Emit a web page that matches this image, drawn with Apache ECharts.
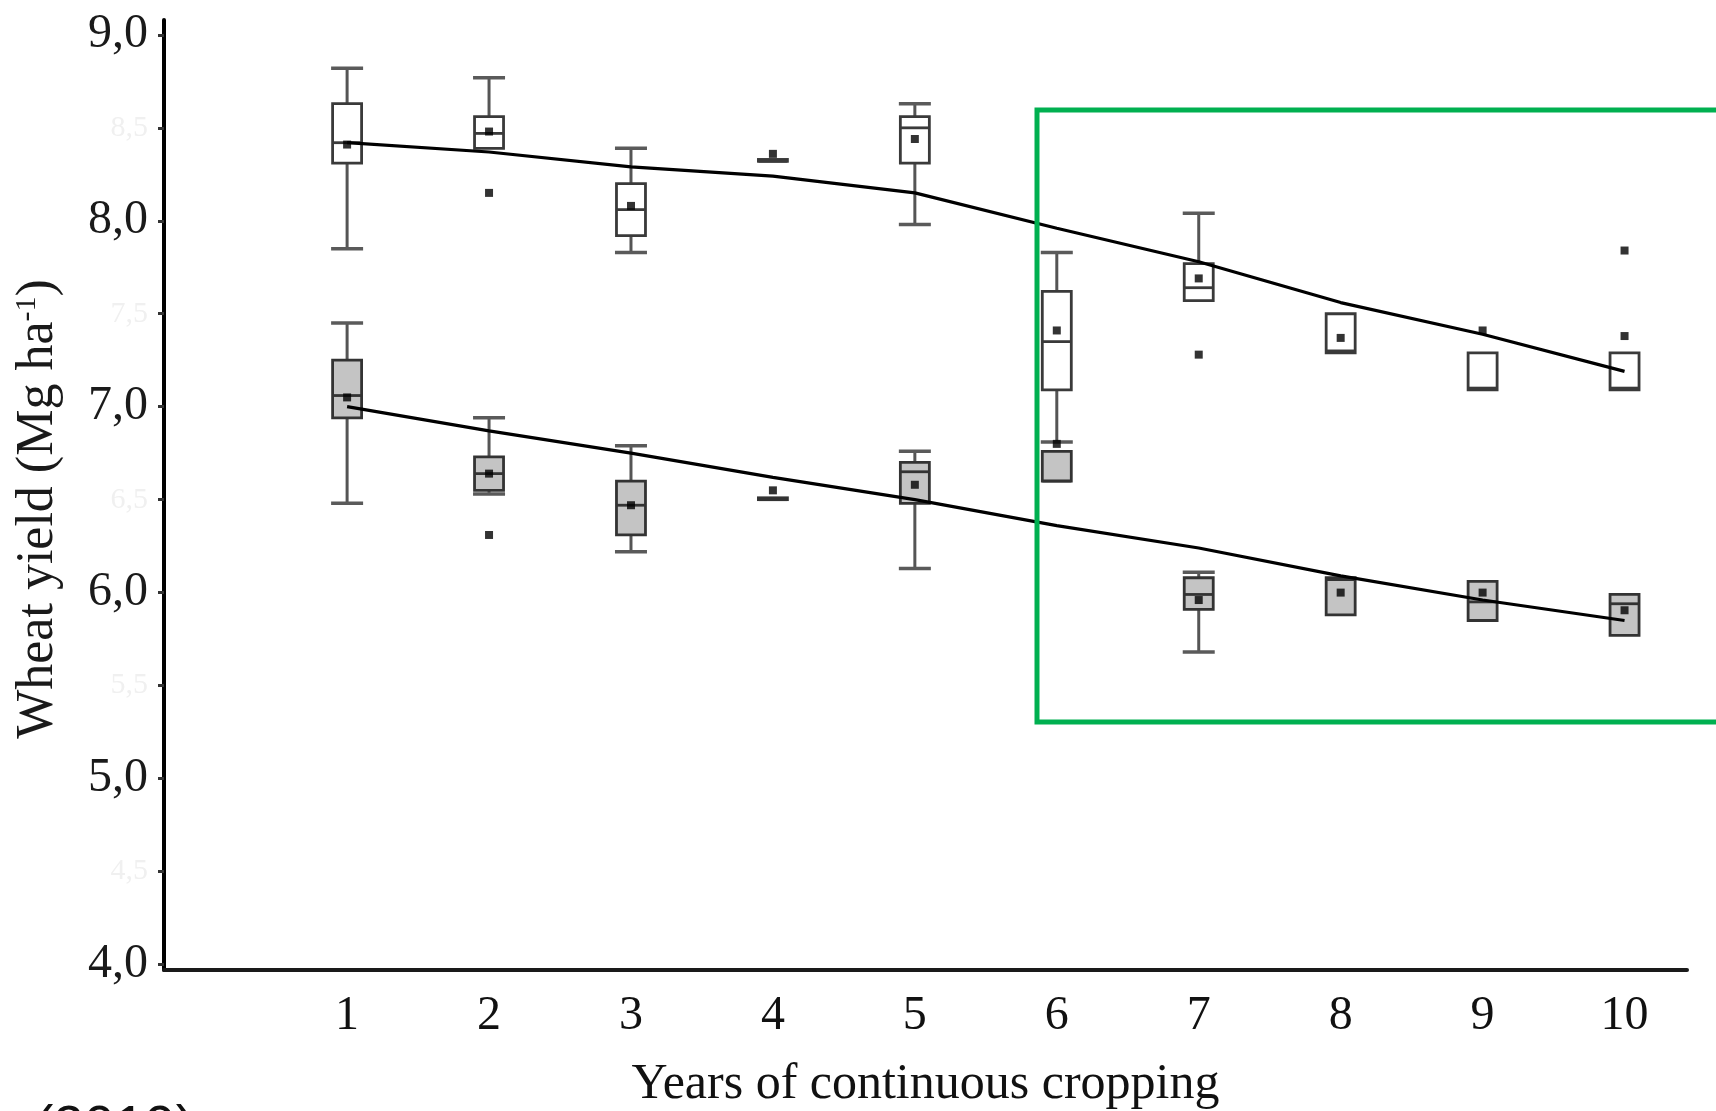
<!DOCTYPE html>
<html>
<head>
<meta charset="utf-8">
<script src="https://cdn.jsdelivr.net/npm/echarts@6/dist/echarts.min.js"></script>
<style>
html,body{margin:0;padding:0;background:#ffffff;}
#chart{width:1716px;height:1111px;}
</style>
</head>
<body>
<div id="chart"></div>
<script>
// ---------------- data ----------------
const years = [1, 2, 3, 4, 5, 6, 7, 8, 9, 10];
const xTickLabels = ['1', '2', '3', '4', '5', '6', '7', '8', '9', '10'];
const yTickValues = [4, 4.5, 5, 5.5, 6, 6.5, 7, 7.5, 8, 8.5, 9];
const yTickLabels = ['4,0', '4,5', '5,0', '5,5', '6,0', '6,5', '7,0', '7,5', '8,0', '8,5', '9,0'];

// [lower whisker, Q1, median, Q3, upper whisker]
const topBoxes = [
  [7.85, 8.31, 8.42, 8.63, 8.82],
  [8.39, 8.39, 8.47, 8.56, 8.77],
  [7.83, 7.92, 8.06, 8.20, 8.39],
  [8.32, 8.32, 8.32, 8.33, 8.33],
  [7.98, 8.31, 8.50, 8.56, 8.63],
  [6.81, 7.09, 7.35, 7.62, 7.83],
  [7.57, 7.57, 7.64, 7.77, 8.04],
  [7.29, 7.29, 7.30, 7.50, 7.50],
  [7.09, 7.09, 7.10, 7.29, 7.29],
  [7.09, 7.09, 7.10, 7.29, 7.29]
];
const topMeans = [8.41, 8.48, 8.08, 8.36, 8.44, 7.41, 7.69, 7.37, null, null];
const topOutliers = [[2, 8.15], [7, 7.28], [9, 7.41], [10, 7.84], [10, 7.38]];
const topOpenOutliers = [[4, 8.53], [9, 7.99]];
const topTrend = [8.42, 8.37, 8.29, 8.24, 8.15, 7.96, 7.78, 7.56, 7.39, 7.19];

const bottomBoxes = [
  [6.48, 6.94, 7.06, 7.25, 7.45],
  [6.53, 6.55, 6.64, 6.73, 6.94],
  [6.22, 6.31, 6.47, 6.60, 6.79],
  [6.50, 6.50, 6.50, 6.51, 6.51],
  [6.13, 6.48, 6.65, 6.70, 6.76],
  [6.60, 6.60, 6.60, 6.76, 6.76],
  [5.68, 5.91, 5.99, 6.08, 6.11],
  [5.88, 5.88, 6.07, 6.08, 6.08],
  [5.85, 5.85, 5.95, 6.06, 6.06],
  [5.77, 5.77, 5.94, 5.99, 5.99]
];
const bottomMeans = [7.05, 6.64, 6.47, 6.55, 6.58, 6.80, 5.96, 6.00, 6.00, 5.905];
const bottomOutliers = [[2, 6.31]];
const bottomOpenOutliers = [[4, 6.70]];
const bottomTrend = [7.00, 6.87, 6.75, 6.62, 6.50, 6.36, 6.24, 6.09, 5.96, 5.85];

// ---------------- chart ----------------
const SERIF = '"Liberation Serif", "Times New Roman", serif';

function boxRenderer(fill, stroke) {
  return function (params, api) {
    const x = api.value(0);
    const lo = api.coord([x, api.value(1)]);
    const q1 = api.coord([x, api.value(2)]);
    const md = api.coord([x, api.value(3)]);
    const q3 = api.coord([x, api.value(4)]);
    const hi = api.coord([x, api.value(5)]);
    const cx = lo[0];
    const hw = 14.5, cw = 16;
    const children = [];
    const wStyle = { stroke: '#555555', lineWidth: 3 };
    const cStyle = { stroke: '#5a5a5a', lineWidth: 3.5 };
    if (lo[1] - q1[1] > 1) {
      children.push({ type: 'line', shape: { x1: cx, y1: q1[1], x2: cx, y2: lo[1] }, style: wStyle });
      children.push({ type: 'line', shape: { x1: cx - cw, y1: lo[1], x2: cx + cw, y2: lo[1] }, style: cStyle });
    }
    if (q3[1] - hi[1] > 1) {
      children.push({ type: 'line', shape: { x1: cx, y1: q3[1], x2: cx, y2: hi[1] }, style: wStyle });
      children.push({ type: 'line', shape: { x1: cx - cw, y1: hi[1], x2: cx + cw, y2: hi[1] }, style: cStyle });
    }
    children.push({
      type: 'rect',
      shape: { x: cx - hw, y: q3[1], width: 2 * hw, height: Math.max(q1[1] - q3[1], 1.5) },
      style: { fill: fill, stroke: stroke, lineWidth: 2.8 }
    });
    children.push({ type: 'line', shape: { x1: cx - hw, y1: md[1], x2: cx + hw, y2: md[1] }, style: { stroke: stroke, lineWidth: 2.8 } });
    return { type: 'group', children: children };
  };
}

const chart = echarts.init(document.getElementById('chart'), null, { renderer: 'canvas' });

const option = {
  animation: false,
  backgroundColor: '#ffffff',
  grid: { left: 164, right: 29, top: 20, bottom: 141, outerBoundsMode: 'none', containLabel: false },
  xAxis: {
    type: 'value',
    min: -0.29,
    max: 10.44,
    splitLine: { show: false },
    axisLine: { show: true, onZero: false, lineStyle: { color: '#1a1a1a', width: 4 } },
    axisTick: { show: false },
    axisLabel: {
      customValues: years,
      margin: 22,
      fontFamily: SERIF,
      fontSize: 48,
      color: '#111111',
      formatter: function (v) { return xTickLabels[years.indexOf(v)]; }
    },
    name: 'Years of continuous cropping',
    nameLocation: 'middle',
    nameGap: 90,
    nameTextStyle: { fontFamily: SERIF, fontSize: 50, color: '#111111' }
  },
  yAxis: {
    type: 'value',
    min: 3.97,
    max: 9.08,
    splitLine: { show: false },
    axisLine: { show: true, onZero: false, lineStyle: { color: '#000000', width: 4 } },
    axisTick: { show: true, customValues: yTickValues, length: 6, lineStyle: { color: '#333333', width: 3 } },
    axisLabel: {
      customValues: yTickValues,
      margin: 16,
      fontFamily: SERIF,
      fontSize: 48,
      color: '#1a1a1a',
      formatter: function (v) {
        const i = yTickValues.findIndex(function (t) { return Math.abs(t - v) < 1e-6; });
        const s = yTickLabels[i];
        return (Math.abs(v - Math.round(v)) < 1e-6) ? s : '{f|' + s + '}';
      },
      rich: { f: { fontFamily: SERIF, fontSize: 30, color: '#f0f0f0' } }
    },
    name: 'Wheat yield (Mg ha{sup|-1})',
    nameLocation: 'middle',
    nameGap: 100,
    nameTextStyle: {
      fontFamily: SERIF,
      fontSize: 52,
      color: '#1a1a1a',
      padding: [0, 28, 0, 0],
      rich: {
        sup: { fontFamily: SERIF, fontSize: 30, color: '#1a1a1a', verticalAlign: 'top' }
      }
    }
  },
  series: [
    {
      name: 'boxes-top',
      type: 'custom',
      renderItem: boxRenderer('#ffffff', '#3a3a3a'),
      encode: { x: 0, y: [1, 2, 3, 4, 5] },
      data: years.map(function (y, i) { return [y].concat(topBoxes[i]); }),
      z: 2
    },
    {
      name: 'boxes-bottom',
      type: 'custom',
      renderItem: boxRenderer('#c4c4c4', '#333333'),
      encode: { x: 0, y: [1, 2, 3, 4, 5] },
      data: years.map(function (y, i) { return [y].concat(bottomBoxes[i]); }),
      z: 2
    },
    {
      name: 'trend-top',
      type: 'line',
      data: years.map(function (y, i) { return [y, topTrend[i]]; }),
      symbol: 'none',
      lineStyle: { color: '#000000', width: 3.2 },
      z: 4
    },
    {
      name: 'trend-bottom',
      type: 'line',
      data: years.map(function (y, i) { return [y, bottomTrend[i]]; }),
      symbol: 'none',
      lineStyle: { color: '#000000', width: 3.2 },
      z: 4
    },
    {
      name: 'means',
      type: 'scatter',
      symbol: 'rect',
      symbolSize: 8,
      itemStyle: { color: '#000000' },
      data: years.map(function (y, i) { return [y, topMeans[i]]; })
        .concat(years.map(function (y, i) { return [y, bottomMeans[i]]; }))
        .filter(function (d) { return d[1] !== null; }),
      z: 5
    },
    {
      name: 'outliers',
      type: 'scatter',
      symbol: 'rect',
      symbolSize: 8,
      itemStyle: { color: '#000000' },
      data: topOutliers.concat(bottomOutliers),
      z: 5
    },
    {
      name: 'outliers-open',
      type: 'scatter',
      symbol: 'emptyCircle',
      symbolSize: 6,
      itemStyle: { color: '#ffffff', borderColor: '#333333', borderWidth: 2 },
      data: topOpenOutliers.concat(bottomOpenOutliers),
      z: 5
    }
  ],
  graphic: [
    {
      type: 'rect',
      z: 100,
      shape: { x: 1037, y: 110, width: 760, height: 612 },
      style: { fill: 'transparent', stroke: '#00b050', lineWidth: 5 }
    },
    {
      type: 'text',
      z: 100,
      style: {
        text: '(2019)',
        x: 35,
        y: 1101,
        fontFamily: '"Liberation Sans", Arial, sans-serif',
        fontSize: 55,
        fill: '#111111',
        align: 'left',
        verticalAlign: 'top'
      }
    }
  ]
};

chart.setOption(option);
</script>
</body>
</html>
